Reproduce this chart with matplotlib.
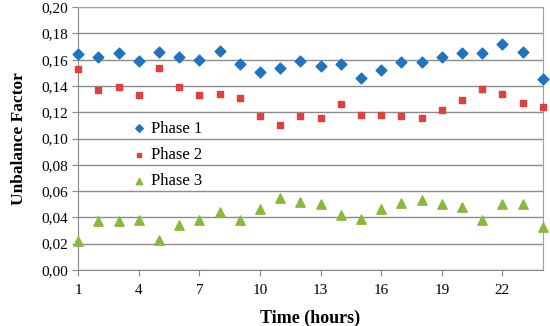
import matplotlib
matplotlib.use('Agg')
import matplotlib.pyplot as plt
from matplotlib.ticker import FuncFormatter

hours = list(range(1, 25))
phase1 = [0.164, 0.162, 0.165, 0.159, 0.166, 0.162, 0.160, 0.167, 0.157, 0.151, 0.154, 0.159,
          0.155, 0.157, 0.146, 0.152, 0.158, 0.158, 0.162, 0.165, 0.165, 0.172, 0.166, 0.145]
phase2 = [0.153, 0.137, 0.139, 0.133, 0.154, 0.139, 0.133, 0.134, 0.131, 0.117, 0.110, 0.117,
          0.116, 0.126, 0.118, 0.118, 0.117, 0.116, 0.122, 0.129, 0.138, 0.134, 0.127, 0.124]
phase3 = [0.022, 0.037, 0.037, 0.038, 0.023, 0.034, 0.038, 0.044, 0.038, 0.046, 0.055, 0.052,
          0.050, 0.042, 0.039, 0.046, 0.051, 0.053, 0.050, 0.048, 0.038, 0.050, 0.050, 0.033]
xticks = [1, 4, 7, 10, 13, 16, 19, 22]

plt.rcParams['font.family'] = 'serif'
plt.rcParams['font.serif'] = ['Liberation Serif', 'DejaVu Serif']

fig = plt.figure(figsize=(5.5, 3.26), dpi=100)
ax = fig.add_axes([0.142, 0.172, 0.845, 0.806])

ax.scatter(hours, phase1, marker='D', s=30, color='#1f73c0', label='Phase 1', zorder=3, clip_on=False)
ax.scatter(hours, phase2, marker='s', s=24, color='#e0413f', label='Phase 2', zorder=3, clip_on=False)
ax.scatter(hours, phase3, marker='^', s=45, color='#8ab83c', label='Phase 3', zorder=3, clip_on=False)

ax.set_xlim(1, 24)
ax.set_ylim(0, 0.20)
ax.set_xticks(xticks)
ax.set_yticks([i * 0.02 for i in range(11)])
ax.yaxis.set_major_formatter(FuncFormatter(lambda v, p: f'{v:.2f}'.replace('.', ',')))
ax.tick_params(labelsize=11, color='#888888', length=4)
ax.tick_params(axis='x', pad=6)

ax.grid(axis='y', color='#8c8c8c', linewidth=1)
ax.set_axisbelow(True)
for s in ax.spines.values():
    s.set_color('#a0a0a0')
ax.spines['left'].set_color('#888888')
ax.spines['bottom'].set_color('#888888')

ax.set_xlabel('Time (hours)', fontsize=13, fontweight='bold', labelpad=9)
ax.set_ylabel('Unbalance Factor', fontsize=12.5, fontweight='bold', labelpad=10)

leg = ax.legend(loc='upper left', bbox_to_anchor=(0.085, 0.625), frameon=False, fontsize=12,
                handlelength=0.8, handletextpad=0.3, labelspacing=0.62, scatterpoints=1,
                markerscale=0.7)

fig.savefig('out.png', dpi=100)
